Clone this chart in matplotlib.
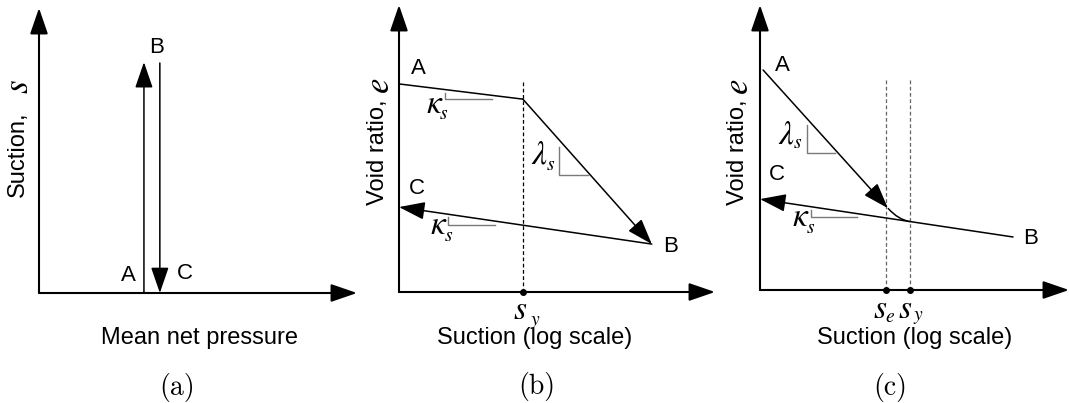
import matplotlib
matplotlib.use("Agg")
import matplotlib.pyplot as plt
from matplotlib.path import Path
from matplotlib.patches import PathPatch

plt.rcParams['font.family'] = ['Liberation Sans', 'DejaVu Sans']
plt.rcParams['mathtext.fontset'] = 'stix'

# --- (a) suction path at constant mean net pressure (schematic units 0..10)
a_p_up, a_p_down = 3.30, 3.80
a_s_low, a_s_high = 0.0, 8.1

# --- (b) void ratio vs suction: A -> yield -> B -> C
b_x = [0.0, 3.92, 8.0, 0.0]
b_e = [7.25, 6.72, 1.67, 2.96]
b_sy = 3.92
b_dash_top = 7.39

# --- (c) void ratio vs suction with smooth transition between s_e and s_y
c_A = (0.1, 7.72)
c_bend = (4.14, 2.87)       # end of the lambda_s branch
c_ctrl = (4.48, 2.46)       # control point of the transition
c_join = (4.85, 2.40)       # meets the kappa_s line at s_y
c_B = (8.19, 1.86)
c_C = (0.0, 3.19)
c_se, c_sy = 4.08, 4.85
c_dash_top = 7.37

# slope triangles: (x corner, y top, y bottom, x right)
b_kappa_top = (1.46, 6.93, 6.72, 2.94)
b_lambda = (5.06, 5.05, 4.08, 5.98)
b_kappa_low = (1.55, 2.61, 2.33, 3.04)
c_lambda = (1.52, 5.79, 4.81, 2.43)
c_kappa = (1.65, 2.81, 2.56, 3.14)

W, H = 1069, 403
fig = plt.figure(figsize=(W / 100, H / 100), dpi=100)

# axes rectangles in pixels: origin x, origin y (from top), width, height
boxes = [(39, 293, 318, 285), (399, 292, 316, 287), (760, 290, 309, 285)]
axes = []
for ox, oy, w, h in boxes:
    ax = fig.add_axes([ox / W, (H - oy) / H, w / W, h / H])
    ax.set_xlim(0, 10)
    ax.set_ylim(0, 10)
    ax.axis('off')
    axes.append(ax)

ARROW = dict(arrowstyle='-|>,head_length=1.6,head_width=0.55', mutation_scale=10,
             color='black', shrinkA=0, shrinkB=0)


def arrow(ax, start, end, lw=1.1):
    ax.annotate('', xy=end, xytext=start, annotation_clip=False,
                arrowprops=dict(ARROW, lw=lw))


def frame(ax):
    arrow(ax, (0, 0), (10, 0), lw=1.5)
    arrow(ax, (0, 0), (0, 10), lw=1.5)


def slope(ax, tri):
    xc, yt, yb, xr = tri
    ax.plot([xc, xc, xr], [yt, yb, yb], color='#7a7a7a', lw=1.0, clip_on=False)


def symbol(ax, x, y, main, sub, dx, dy):
    # italic symbol with a dropped subscript, offsets in pixels
    ax.text(x, y, '$%s$' % main, fontsize=24, ha='center', va='center')
    ax.annotate('$%s$' % sub, xy=(x, y), xytext=(dx, dy), textcoords='offset pixels',
                fontsize=14, ha='center', va='center', annotation_clip=False)


def ylabel(ax, x, y, words, var, y_var):
    ax.text(x, y, words, rotation=90, fontsize=17, ha='center', va='center')
    ax.text(x + 0.03, y_var, '$%s$' % var, rotation=90, fontsize=25,
            ha='center', va='center')


lab = dict(fontsize=16, ha='center', va='center')
axis_lab = dict(fontsize=17, ha='center', va='center')
cap = dict(fontsize=20, ha='center', va='center', family='cmr10')

# (a)
ax = axes[0]
frame(ax)
arrow(ax, (a_p_up, a_s_low), (a_p_up, a_s_high))
arrow(ax, (a_p_down, a_s_high - 0.03), (a_p_down, a_s_low))
ax.text(3.71, 8.62, 'B', **lab)
ax.text(2.80, 0.63, 'A', **lab)
ax.text(4.60, 0.67, 'C', **lab)
ylabel(ax, -0.66, 4.88, 'Suction,', 's', 7.23)
ax.text(5.06, -1.58, 'Mean net pressure', **axis_lab)
ax.text(4.34, -3.30, '(a)', **cap)

# (b)
ax = axes[1]
frame(ax)
ax.plot([b_sy, b_sy], [0, b_dash_top], color='black', lw=0.9, ls=(0, (3, 2)))
ax.plot(b_x[:2], b_e[:2], color='black', lw=1.1)
arrow(ax, (b_x[1], b_e[1]), (b_x[2], b_e[2]))
arrow(ax, (b_x[2], b_e[2]), (b_x[3], b_e[3]))
ax.plot([b_sy], [0], 'o', color='black', ms=4, clip_on=False)
for tri in (b_kappa_top, b_lambda, b_kappa_low):
    slope(ax, tri)
symbol(ax, 1.12, 6.55, r'\kappa', 's', 9, -10)
symbol(ax, 1.25, 2.33, r'\kappa', 's', 10, -11)
symbol(ax, 4.44, 4.77, r'\lambda', 's', 11, -10)
symbol(ax, 3.83, -0.63, 's', 'y', 15, -12)
ax.text(0.60, 7.80, 'A', **lab)
ax.text(0.57, 3.62, 'C', **lab)
ax.text(8.58, 1.60, 'B', **lab)
ylabel(ax, -0.66, 4.88, 'Void ratio,', 'e', 7.18)
ax.text(4.30, -1.60, 'Suction (log scale)', **axis_lab)
ax.text(4.37, -3.31, '(b)', **cap)

# (c)
ax = axes[2]
frame(ax)
for xv in (c_se, c_sy):
    ax.plot([xv, xv], [0, c_dash_top], color='#666666', lw=0.9, ls=(0, (3, 2)))
    ax.plot([xv], [0], 'o', color='black', ms=4, clip_on=False)
arrow(ax, c_A, c_bend)
curve = Path([c_bend, c_ctrl, c_join], [Path.MOVETO, Path.CURVE3, Path.CURVE3])
ax.add_patch(PathPatch(curve, fill=False, color='black', lw=1.1))
arrow(ax, c_B, c_C)
for tri in (c_lambda, c_kappa):
    slope(ax, tri)
symbol(ax, 0.85, 5.44, r'\lambda', 's', 11, -9)
symbol(ax, 1.31, 2.53, r'\kappa', 's', 10, -11)
symbol(ax, 3.88, -0.70, 's', 'e', 10, -8)
symbol(ax, 4.69, -0.70, 's', 'y', 13, -8)
ax.text(0.71, 7.89, 'A', **lab)
ax.text(0.55, 4.04, 'C', **lab)
ax.text(8.74, 1.82, 'B', **lab)
ylabel(ax, -0.71, 4.84, 'Void ratio,', 'e', 7.12)
ax.text(5.02, -1.68, 'Suction (log scale)', **axis_lab)
ax.text(4.21, -3.42, '(c)', **cap)

fig.savefig('out.png', dpi=100)
